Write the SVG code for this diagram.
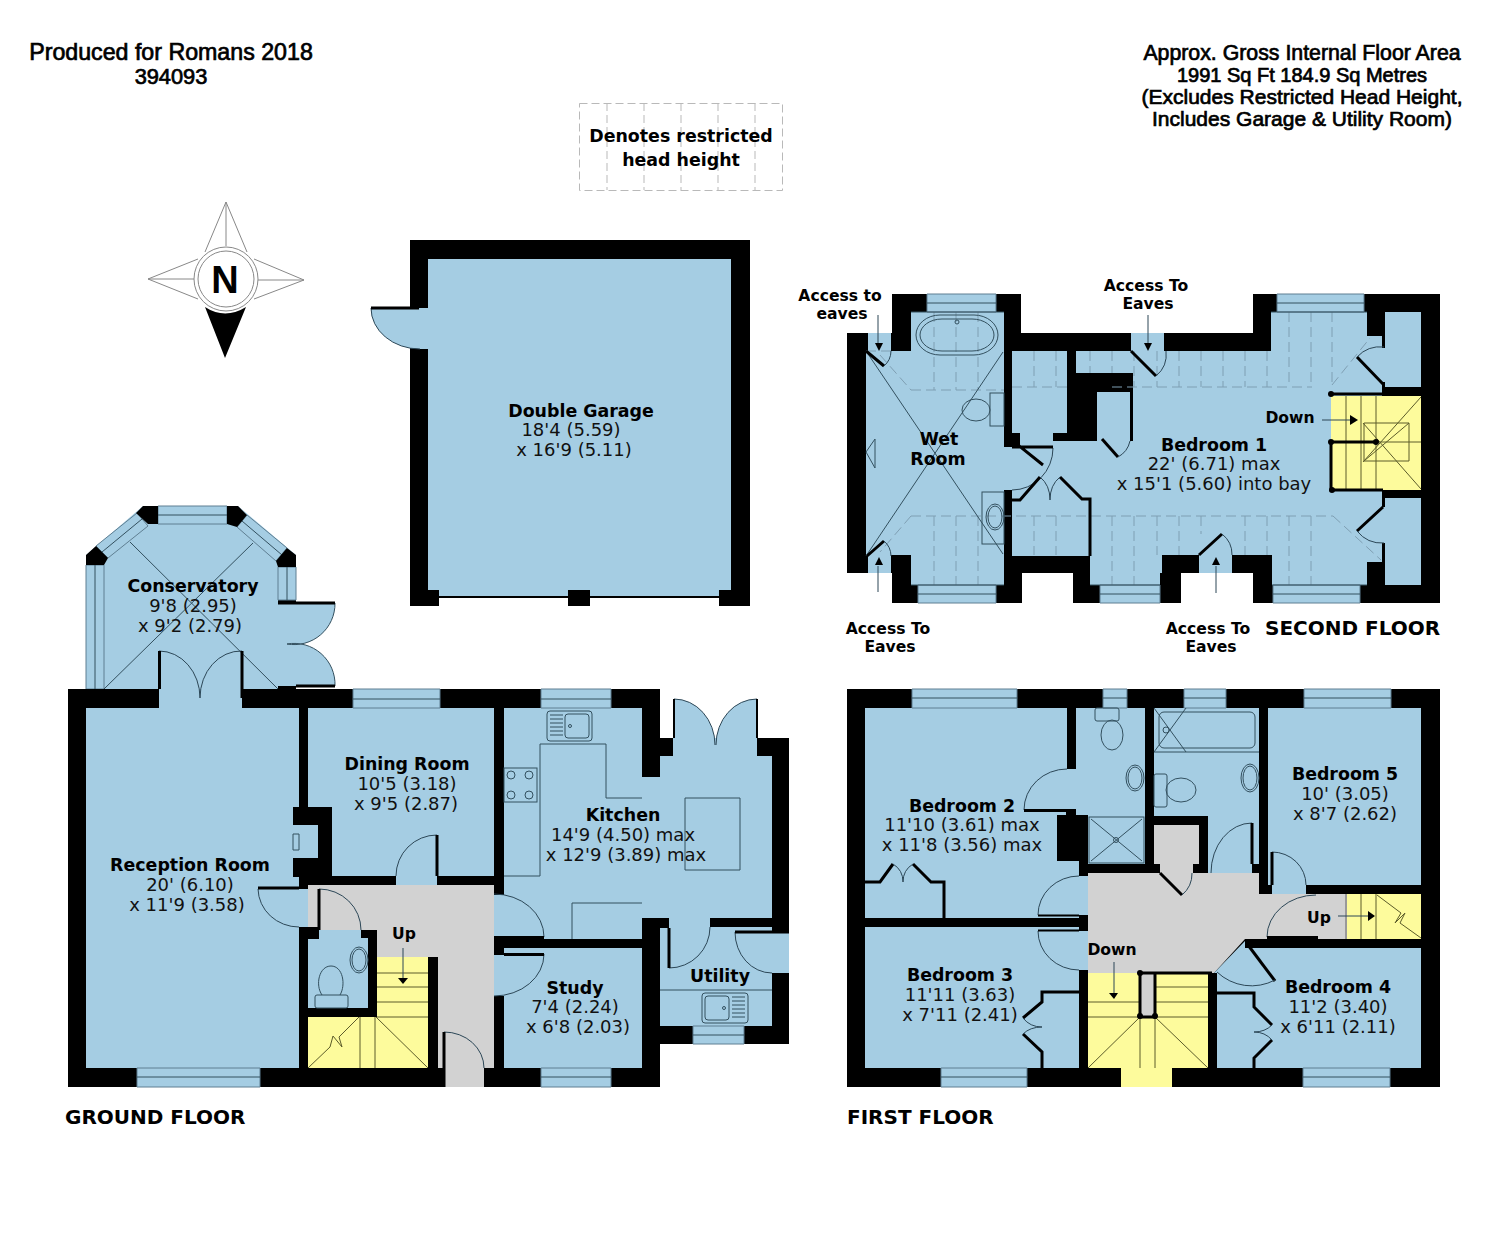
<svg xmlns="http://www.w3.org/2000/svg" width="1500" height="1251" viewBox="0 0 1500 1251">
<defs>
<style>
.w{fill:#000}
.b{fill:#a5cde3}
.g{fill:#d2d2d2}
.y{fill:#fdfb9c}
.wh{fill:#fff}
.win{fill:#a5cde3;stroke:#5f7f92;stroke-width:1}
.l{fill:none;stroke:#33505f;stroke-width:1}
.a{fill:none;stroke:#2c4757;stroke-width:1}
.t{fill:none;stroke:#000;stroke-width:3}
.s{fill:none;stroke:#5c5c2a;stroke-width:1}
.d{fill:none;stroke:#7f9fb3;stroke-width:1;stroke-dasharray:10 5}
.rd{fill:none;stroke:#b9b9b9;stroke-width:1;stroke-dasharray:8 4}
.n{font-family:"DejaVu Sans",Verdana,sans-serif;font-size:18px;text-anchor:middle;fill:#111}
.h{font-weight:bold;fill:#000;font-size:17.4px}
.sm{font-family:"DejaVu Sans",Verdana,sans-serif;font-size:15.600px;font-weight:bold;text-anchor:middle;fill:#000}
.hd{font-family:"Liberation Sans",Arial,sans-serif;font-size:21px;text-anchor:middle;fill:#000;stroke:#000;stroke-width:.7}
.fl{font-family:"DejaVu Sans",Verdana,sans-serif;font-size:20px;font-weight:bold;fill:#000}
</style>
</defs>
<rect width="1500" height="1251" fill="#fff"/>

<!-- header -->
<text class="hd" style="font-size:23.200px" x="171" y="60">Produced for Romans 2018</text>
<text class="hd" style="font-size:21.800px" x="171" y="84">394093</text>
<text class="hd" style="font-size:21.300px" x="1302" y="60">Approx. Gross Internal Floor Area</text>
<text class="hd" style="font-size:20px" x="1302" y="82">1991 Sq Ft 184.9 Sq Metres</text>
<text class="hd" style="font-size:21px" x="1302" y="104">(Excludes Restricted Head Height,</text>
<text class="hd" style="font-size:21px" x="1302" y="126">Includes Garage &amp; Utility Room)</text>

<!-- restricted key -->
<g id="key">
<rect class="rd" x="579.500" y="103.500" width="203" height="87"/>
<path class="rd" d="M607 103V190M644 103V190M681 103V190M718 103V190M755 103V190"/>
<text class="n h" x="681" y="142">Denotes restricted</text>
<text class="n h" x="681" y="166">head height</text>
</g>

<!-- compass -->
<g id="compass">
<path d="M226 202L205 252M226 202L247 252M226 202V246M148 279L198 259M148 279L198 299M148 279H194M304 280L254 259M304 280L254 299M304 280H258" fill="none" stroke="#888" stroke-width="1"/>
<path d="M205 307Q225 320 246 307L225 358Z" fill="#000"/>
<circle cx="226" cy="279" r="32" fill="none" stroke="#888"/>
<circle cx="226" cy="279" r="28" fill="none" stroke="#888"/>
<text x="225" y="293" font-family="Liberation Sans,Arial,sans-serif" font-size="38" font-weight="bold" text-anchor="middle">N</text>
</g>

<!-- garage -->
<g id="garage">
<path class="w" d="M410 240H750V606H719V590H590V606H568V590H439V606H410Z"/>
<path class="b" d="M428 259H731V590H719V597H590V590H568V597H439V590H428Z"/>
<path d="M439 597H568M590 597H719" stroke="#000" stroke-width="2" fill="none"/>
<path class="b" d="M371 308H428V349H420A49 41 0 0 1 371 308Z"/>
<path class="a" d="M371 308A49 41 0 0 0 420 349"/>
<path class="t" d="M371 308H419"/>
<rect class="w" x="419" y="305" width="9" height="2"/>
</g>

<!-- ground floor -->
<g id="ground-floor">
<!-- conservatory -->
<path class="b" d="M86 689V555L143 506H238L296 555V600H278V689Z"/>
<path class="b" d="M278 603H335A41 41 0 0 1 287 644A41 41 0 0 1 335 686H278Z"/>
<path class="l" d="M335 603A41 41 0 0 1 287 644A41 41 0 0 1 335 686"/>
<path d="M278 603H335M296 686H335" stroke="#000" stroke-width="3" fill="none"/>
<path class="w" d="M278 600H296V604H278ZM278 686H296V689H278Z"/>
<path class="win" d="M86 689V565H104V689ZM278 567H296V600H278ZM158 506H227V524H158Z"/>
<path class="win" d="M96 546L137 513L148 526L108 558Z"/>
<path class="win" d="M247 515L287 548L276 561L237 527Z"/>
<path class="l" d="M95 565V689M287 567V600M158 515H227M102 552L142 519M242 521L282 555"/>
<path class="w" d="M86 555L96 546L108 558L104 565H86ZM136 513L143 506H158V524H148ZM227 506H238L247 515L237 527L227 524ZM287 548L296 555V567H278L276 561Z"/>
<path class="l" d="M130 542L278 689M253 543L104 689"/>
<!-- footprint -->
<path class="w" d="M68 689H660V738H789V1044H660V1087H68Z"/>
<!-- rooms -->
<path class="b" d="M86 708H159V689H242V708H299V807H293V825H299V858H293V877H299V889H308V927H299V1068H86Z"/>
<rect class="b" x="299" y="825" width="19" height="33"/>
<path class="b" d="M308 708H494V876H437V885H396V876H332V807H308Z"/>
<path class="g" d="M308 885H494V1068H484V1087H444V1068H438V957H377V930H319V927H308Z"/>
<path class="b" d="M308 939H319V930H361V938H368V1008H308Z"/>
<path class="b" d="M504 708H642V777H660V756H673V738H757V756H772V918H642V939H504V936H494V895H504Z"/>
<path class="b" d="M669 918H710V927H772V1026H660V928H669Z"/>
<rect class="b" x="494" y="955" width="10" height="41"/>
<rect class="b" x="504" y="948" width="138" height="120"/>
<path class="b" d="M674 699A41 46 0 0 1 715 745H674ZM757 699A41 46 0 0 0 716 745H757Z"/>
<path class="a" d="M674 699A41 46 0 0 1 715 745M757 699A41 46 0 0 0 716 745"/>
<path d="M674 699V738M757 699V738" stroke="#000" stroke-width="2" fill="none"/>
<rect class="b" x="772" y="932" width="17" height="41"/>
<rect class="y" x="377" y="957" width="51" height="60"/>
<rect class="y" x="308" y="1017" width="120" height="51"/>
<rect class="w" x="308" y="1008" width="69" height="9"/>
<!-- ground windows -->
<path class="win" d="M137 1068H260V1087H137ZM353 689H440V708H353ZM541 689H611V708H541ZM541 1068H611V1087H541ZM693 1026H744V1044H693Z"/>
<path class="l" d="M137 1077H260M353 699H440M541 699H611M541 1077H611M693 1035H744"/>
<!-- doors -->
<path class="a" d="M159 651A41 47 0 0 1 200 698M242 651A41 47 0 0 0 200 698"/>
<path class="t" d="M159.500 651V689M242 651V698"/>
<path class="a" d="M396 876A41 41 0 0 1 437 835"/>
<path class="t" d="M437 835V876"/>
<path class="a" d="M258 889A41 39 0 0 0 299 927"/>
<path class="t" d="M258 888H299"/>
<path class="a" d="M319 889A42 41 0 0 1 361 930"/>
<path class="t" d="M319 889V930"/>
<path class="a" d="M444 1032A40 36 0 0 1 484 1068"/>
<path class="t" d="M444 1032V1087"/>
<path class="a" d="M494 894A50 43 0 0 1 544 937"/>
<path class="b" d="M504 954H544A50 42 0 0 1 494 996H504Z"/>
<path class="a" d="M544 954A50 42 0 0 1 494 996"/>
<path class="t" d="M504 937.500H544M504 954.500H544"/>
<rect class="w" x="494" y="936" width="10" height="19"/>
<path class="a" d="M669 968A41 41 0 0 0 710 927"/>
<path class="t" d="M669 928V968"/>
<path class="a" d="M735 932A37 41 0 0 0 772 973"/>
<path class="t" d="M735 932H789"/>
<!-- fixtures -->
<path class="l" d="M293 834h6v16h-6zM540 876V744H606V798H642M504 876H540M685 798H740V870H685ZM572 939V903H642M660 990H772"/>
<rect class="l" x="504" y="768" width="33" height="34"/>
<circle class="l" cx="511" cy="775" r="4"/><circle class="l" cx="529" cy="775" r="4"/><circle class="l" cx="511" cy="795" r="4"/><circle class="l" cx="529" cy="795" r="4"/>
<rect class="l" x="547" y="711" width="45" height="30" rx="3"/>
<rect class="l" x="565" y="714" width="24" height="24" rx="3"/>
<path class="l" d="M550 715h13M550 719h13M550 723h13M550 727h13M550 731h13M550 735h13"/>
<circle class="l" cx="570" cy="726" r="1.500"/>
<rect class="l" x="702" y="993" width="46" height="30" rx="3"/>
<rect class="l" x="705" y="996" width="24" height="24" rx="3"/>
<path class="l" d="M732 997h13M732 1001h13M732 1005h13M732 1009h13M732 1013h13M732 1017h13"/>
<circle class="l" cx="724" cy="1008" r="1.500"/>
<ellipse class="l" cx="359" cy="960" rx="9" ry="13"/><ellipse class="l" cx="359" cy="960" rx="7" ry="11"/>
<rect class="l" x="315" y="995" width="33" height="13" rx="2"/>
<path class="l" d="M322 995C315 985 319 966 331 966C343 966 346 985 340 995"/>
<!-- stairs -->
<path class="s" d="M377 973H428M377 987H428M377 1002H428M377 1017H428M360 1017V1068M375 1017V1068M376 1017L428 1068"/>
<path class="s" d="M308 1068L330 1047L333 1036L342 1047L339 1037L359 1017"/>
<path class="a" d="M403 948V978"/><path d="M398 978H408L403 984Z"/>
<rect class="w" x="428" y="957" width="10" height="111"/>
</g>

<!-- first floor -->
<g id="first-floor">
<rect class="w" x="847" y="689" width="593" height="398"/>
<path class="b" d="M865 708H1067V769H1076V708H1145V815H1057V861H1079V918H865Z"/>
<rect class="b" x="1088" y="815" width="57" height="49"/>
<rect class="w" x="1057" y="815" width="31" height="46"/>
<rect class="b" x="865" y="927" width="214" height="141"/>
<rect class="b" x="1079" y="876" width="9" height="39"/>
<rect class="b" x="1079" y="931" width="9" height="39"/>
<path class="b" d="M1154 708H1259V864H1252V873H1208V816H1154Z"/>
<rect class="g" x="1154" y="825" width="45" height="39"/>
<rect class="b" x="1268" y="708" width="153" height="177"/>
<rect class="b" x="1272" y="885" width="34" height="9"/>
<path class="g" d="M1088 873H1259V894H1346V939H1245L1214 973H1088Z"/>
<rect class="g" x="1160" y="864" width="33" height="10"/>
<path class="b" d="M1214 973L1245 941L1250 948H1421V1068H1217V975Z"/>
<rect class="y" x="1088" y="973" width="120" height="95"/>
<rect class="y" x="1121" y="1068" width="51" height="19"/>
<rect class="g" x="1140" y="973" width="15" height="44"/>
<rect class="y" x="1346" y="894" width="75" height="45"/>
<rect class="w" x="1245" y="939" width="176" height="9"/>
<!-- windows -->
<path class="win" d="M912 689H1017V708H912ZM1103 689H1127V708H1103ZM1184 689H1226V708H1184ZM1304 689H1391V708H1304ZM941 1068H1027V1087H941ZM1303 1068H1390V1087H1303Z"/>
<path class="l" d="M912 698H1017M1103 698H1127M1184 698H1226M1304 698H1391M941 1077H1027M1303 1077H1390"/>
<!-- doors -->
<path class="a" d="M1067 769A43 41 0 0 0 1024 810"/>
<path class="t" d="M1024 810.500H1076"/>
<rect class="w" x="1066" y="811" width="10" height="4"/>
<path class="a" d="M1079 876A41 39 0 0 0 1038 915"/><path class="a" d="M1038 931A41 39 0 0 0 1079 970"/>
<path d="M1038 915.500H1079M1038 930.500H1079" stroke="#000" stroke-width="2"/>
<rect class="w" x="1079" y="915" width="9" height="16"/>
<path class="t" d="M1160 873L1182 895"/><path class="a" d="M1182 895A28 28 0 0 0 1192 873"/>
<path class="a" d="M1252 823A41 50 0 0 0 1211 873"/><path class="t" d="M1252 823V864"/>
<path class="a" d="M1272 852A34 33 0 0 1 1306 885"/><path class="t" d="M1272 852V885"/>
<path class="a" d="M1267 937A49 42 0 0 1 1316 895"/><path class="t" d="M1267 937.500H1318"/>
<path class="t" d="M1248 945L1275 981"/><path class="a" d="M1217 972A50 50 0 0 0 1275 980"/>
<!-- wardrobes -->
<path class="t" d="M865 882H880L893 864M913 864L931 882H944V918"/>
<path class="a" d="M893 864Q903 870 903 882Q903 870 913 864"/>
<path class="t" d="M1079 992H1042V1002L1023 1018M1023 1034L1042 1052V1068"/>
<path class="a" d="M1023 1018Q1030 1027 1042 1027Q1030 1027 1023 1034"/>
<path class="t" d="M1217 993H1254V1007L1272 1025M1272 1040L1254 1058V1068"/>
<path class="a" d="M1272 1025Q1265 1032 1254 1032Q1265 1032 1272 1040"/>
<!-- fixtures -->
<rect class="l" x="1095" y="708" width="24" height="13" rx="2"/>
<ellipse class="l" cx="1112" cy="735" rx="11" ry="15"/>
<ellipse class="l" cx="1135" cy="778" rx="9" ry="13"/><ellipse class="l" cx="1135" cy="778" rx="7" ry="11"/>
<rect class="l" x="1089" y="817" width="55" height="46"/>
<path class="l" d="M1091 819L1142 861M1142 819L1091 861"/>
<circle class="l" cx="1116" cy="840" r="2.500"/>
<path class="l" d="M1154 752H1259M1154 708L1186 752M1186 708L1154 752"/>
<rect class="l" x="1159" y="712" width="96" height="36" rx="5"/>
<circle class="l" cx="1166" cy="730" r="3"/>
<rect class="l" x="1154" y="774" width="13" height="33" rx="2"/>
<ellipse class="l" cx="1181" cy="790" rx="15" ry="12"/>
<ellipse class="l" cx="1250" cy="778" rx="9" ry="14"/><ellipse class="l" cx="1250" cy="778" rx="7" ry="12"/>
<!-- stairs -->
<path class="s" d="M1088 1002H1140M1088 1017H1140M1155 987H1208M1155 1002H1208M1155 1017H1208M1155 1017V1068M1140 1017V1068M1140 1017L1088 1068M1155 1017L1208 1068"/>
<path d="M1140 973V1017H1155V973M1140 973H1212" stroke="#000" stroke-width="3" fill="none"/>
<circle cx="1140" cy="973" r="3"/><circle cx="1140" cy="1016" r="3"/><circle cx="1155" cy="1016" r="3"/>
<path class="s" d="M1361 894V939M1376 894V939M1377 895L1401 913L1395 923L1405 913L1400 923L1421 938"/>
<path d="M1346 894V939" stroke="#999" stroke-width="2"/>
<path class="a" d="M1338 916H1368"/><path d="M1368 911L1375 916L1368 921Z"/>
<path class="a" d="M1114 962V993"/><path d="M1109 993H1118L1114 999Z"/>
<rect class="w" x="1208" y="973" width="9" height="95"/>
</g>

<!-- second floor -->
<g id="second-floor">
<path class="w" d="M847 333H892V294H1021V333H1253V294H1440V603H1253V573H1181V603H1073V573H1022V603H892V573H847Z"/>
<!-- blue -->
<rect class="b" x="866" y="351" width="138" height="204"/>
<rect class="b" x="911" y="312" width="93" height="39"/>
<rect class="b" x="911" y="555" width="93" height="30"/>
<rect class="b" x="868" y="333" width="23" height="18"/>
<rect class="b" x="868" y="555" width="23" height="18"/>
<rect class="b" x="1004" y="447" width="8" height="43"/>
<rect class="b" x="1012" y="351" width="370" height="205"/>
<rect class="b" x="1090" y="556" width="277" height="29"/>
<rect class="b" x="1367" y="556" width="15" height="6"/>
<rect class="b" x="1271" y="312" width="96" height="39"/>
<rect class="b" x="1367" y="336" width="15" height="15"/>
<rect class="b" x="1131" y="333" width="33" height="18"/>
<rect class="b" x="1385" y="312" width="36" height="75"/>
<rect class="b" x="1385" y="498" width="36" height="87"/>
<rect class="b" x="1382" y="348" width="3" height="34"/>
<rect class="b" x="1382" y="507" width="3" height="36"/>
<rect class="w" x="1382" y="336" width="3" height="12"/>
<rect class="w" x="1382" y="543" width="3" height="42"/>
<!-- bottom notches -->
<rect class="w" x="1162" y="555" width="37" height="18"/>
<rect class="w" x="1232" y="555" width="21" height="18"/>
<rect class="w" x="1160" y="573" width="21" height="30"/>
<rect class="wh" x="1181" y="573" width="72" height="30"/>
<rect class="b" x="1199" y="555" width="33" height="18"/>
<rect class="w" x="1253" y="555" width="19" height="48"/>
<rect class="w" x="1073" y="556" width="17" height="47"/>
<rect class="w" x="1012" y="556" width="61" height="17"/>
<!-- centre block -->
<rect class="w" x="1067" y="351" width="9" height="22"/>
<rect class="w" x="1067" y="373" width="66" height="19"/>
<rect class="w" x="1067" y="392" width="30" height="41"/>
<rect class="w" x="1053" y="433" width="44" height="8"/>
<rect class="w" x="1130" y="392" width="3" height="49"/>
<rect class="w" x="1004" y="433" width="16" height="14"/>
<rect class="y" x="1331" y="396" width="90" height="94"/>
<rect class="w" x="1382" y="387" width="39" height="9"/>
<rect class="w" x="1382" y="490" width="39" height="8"/>
<rect class="w" x="1367" y="562" width="15" height="23"/>
<!-- dashes -->
<path class="d" d="M866 351H891M911 390H1004M934 312V390M956 312V390M978 312V390M880 355L911 390M1012 387H1067M1034 351V387M1056 351V387M1112 387H1312M1090 351V373M1112 351V373M1134 351V387M1157 351V387M1179 351V387M1201 351V387M1223 351V387M1245 351V387M1267 351V387M1289 312V387M1311 312V387M1332 312V385M1332 385L1370 338"/>
<path class="d" d="M911 516H1333M934 516V585M956 516V585M978 516V585M1034 516V555M1056 516V555M1112 516V585M1134 516V585M1157 516V555M1179 516V555M1201 516V534M1245 516V555M1267 516V555M1289 516V585M1311 516V585M1333 516L1381 560M911 516L880 552"/>
<!-- windows -->
<path class="win" d="M927 294H996V312H927ZM1277 294H1364V312H1277ZM918 585H996V603H918ZM1100 585H1160V603H1100ZM1273 585H1360V603H1273Z"/>
<path class="l" d="M927 303H996M1277 303H1364M918 594H996M1100 594H1160M1273 594H1360M911 585H1004M1090 585H1160M1272 585H1367M911 312H1004M1271 312H1367"/>
<!-- diagonals & fixtures -->
<path class="l" d="M866 351L1003 554M1003 352L866 556M875 439L866 452L875 468Z"/>
<rect class="l" x="916" y="315" width="82" height="40" rx="24" ry="20"/><rect class="l" x="920" y="319" width="74" height="32" rx="22" ry="16"/>
<circle class="l" cx="957" cy="322" r="2"/>
<rect class="l" x="990" y="393" width="14" height="33"/>
<ellipse class="l" cx="976" cy="410" rx="14" ry="11"/>
<rect class="l" x="982" y="492" width="22" height="52"/>
<ellipse class="l" cx="995" cy="517" rx="9" ry="13"/><ellipse class="l" cx="995" cy="517" rx="7" ry="11"/>
<!-- doors -->
<path class="a" d="M1053 448A41 42 0 0 1 1012 490"/>
<path class="t" d="M1012 447H1053M1013 441L1043 465"/>
<path class="t" d="M866 351L884 366M867 556L884 541M1131 351L1156 376M1199 555L1222 534"/>
<path class="a" d="M884 366A20 20 0 0 0 891 351M884 541A20 20 0 0 1 891 556M1156 376A28 28 0 0 0 1166 351M1222 534A26 26 0 0 1 1232 555"/>
<path class="t" d="M1102 439L1118 457"/><path class="a" d="M1118 457A24 24 0 0 0 1130 441"/>
<path class="t" d="M1012 500H1020L1040 477M1060 477L1082 499H1090V556"/>
<path class="a" d="M1040 477Q1050 485 1050 500Q1050 485 1060 477"/>
<path class="t" d="M1357 357L1383 384M1383 507L1357 531"/>
<path class="a" d="M1384 347A32 32 0 0 0 1357 357M1357 531A32 32 0 0 0 1384 543"/>
<!-- stairs -->
<path class="s" d="M1346 396V490M1361 396V490M1376 396V490M1376 442H1421M1421 397L1363 462M1363 423L1421 489M1364 423H1409V461H1364ZM1409 423L1364 461"/>
<path d="M1331 394H1421M1331 442H1376M1331 442V490H1383" stroke="#000" stroke-width="3" fill="none"/>
<circle cx="1331" cy="394" r="3"/><circle cx="1331" cy="442" r="3"/><circle cx="1376" cy="442" r="3"/><circle cx="1332" cy="490" r="3"/>
<path class="a" d="M1322 420H1352"/><path d="M1350 415L1358 420L1350 425Z"/>
<!-- arrows -->
<path class="a" d="M878 315V344M878 592V566M1148 315V344M1216 593V566"/>
<path d="M875 343H883L879 351ZM875 565H883L879 557ZM1144 343H1152L1148 351ZM1212 565H1220L1216 557Z"/>
</g>

<!-- labels -->
<g id="labels">
<text class="n h" x="581" y="417">Double Garage</text><text class="n" x="571" y="436">18'4 (5.59)</text><text class="n" x="574" y="456">x 16'9 (5.11)</text>
<text class="n h" x="193" y="592">Conservatory</text><text class="n" x="193" y="612">9'8 (2.95)</text><text class="n" x="190" y="632">x 9'2 (2.79)</text>
<text class="n h" x="407" y="770">Dining Room</text><text class="n" x="407" y="790">10'5 (3.18)</text><text class="n" x="406" y="810">x 9'5 (2.87)</text>
<text class="n h" x="190" y="871">Reception Room</text><text class="n" x="190" y="891">20' (6.10)</text><text class="n" x="187" y="911">x 11'9 (3.58)</text>
<text class="n h" x="623" y="821">Kitchen</text><text class="n" x="623" y="841">14'9 (4.50) max</text><text class="n" x="626" y="861">x 12'9 (3.89) max</text>
<text class="n h" x="575" y="994">Study</text><text class="n" x="575" y="1013">7'4 (2.24)</text><text class="n" x="578" y="1033">x 6'8 (2.03)</text>
<text class="n h" x="720" y="982">Utility</text>
<text class="sm" x="404" y="939">Up</text>
<text class="n h" x="939" y="445">Wet</text><text class="n h" x="938" y="465">Room</text>
<text class="n h" x="1214" y="451">Bedroom 1</text><text class="n" x="1214" y="470">22' (6.71) max</text><text class="n" x="1214" y="490">x 15'1 (5.60) into bay</text>
<text class="sm" x="1290" y="423">Down</text>
<text class="n h" x="962" y="812">Bedroom 2</text><text class="n" x="962" y="831">11'10 (3.61) max</text><text class="n" x="962" y="851">x 11'8 (3.56) max</text>
<text class="n h" x="960" y="981">Bedroom 3</text><text class="n" x="960" y="1001">11'11 (3.63)</text><text class="n" x="960" y="1021">x 7'11 (2.41)</text>
<text class="n h" x="1338" y="993">Bedroom 4</text><text class="n" x="1338" y="1013">11'2 (3.40)</text><text class="n" x="1338" y="1033">x 6'11 (2.11)</text>
<text class="n h" x="1345" y="780">Bedroom 5</text><text class="n" x="1345" y="800">10' (3.05)</text><text class="n" x="1345" y="820">x 8'7 (2.62)</text>
<text class="sm" x="1112" y="955">Down</text><text class="sm" x="1319" y="923">Up</text>
<text class="sm" x="840" y="301">Access to</text><text class="sm" x="842" y="319">eaves</text>
<text class="sm" x="1146" y="291">Access To</text><text class="sm" x="1148" y="309">Eaves</text>
<text class="sm" x="888" y="634">Access To</text><text class="sm" x="890" y="652">Eaves</text>
<text class="sm" x="1208" y="634">Access To</text><text class="sm" x="1211" y="652">Eaves</text>
<text class="fl" x="1265" y="635">SECOND FLOOR</text>
<text class="fl" x="65" y="1124">GROUND FLOOR</text>
<text class="fl" x="847" y="1124">FIRST FLOOR</text>
</g>
</svg>
